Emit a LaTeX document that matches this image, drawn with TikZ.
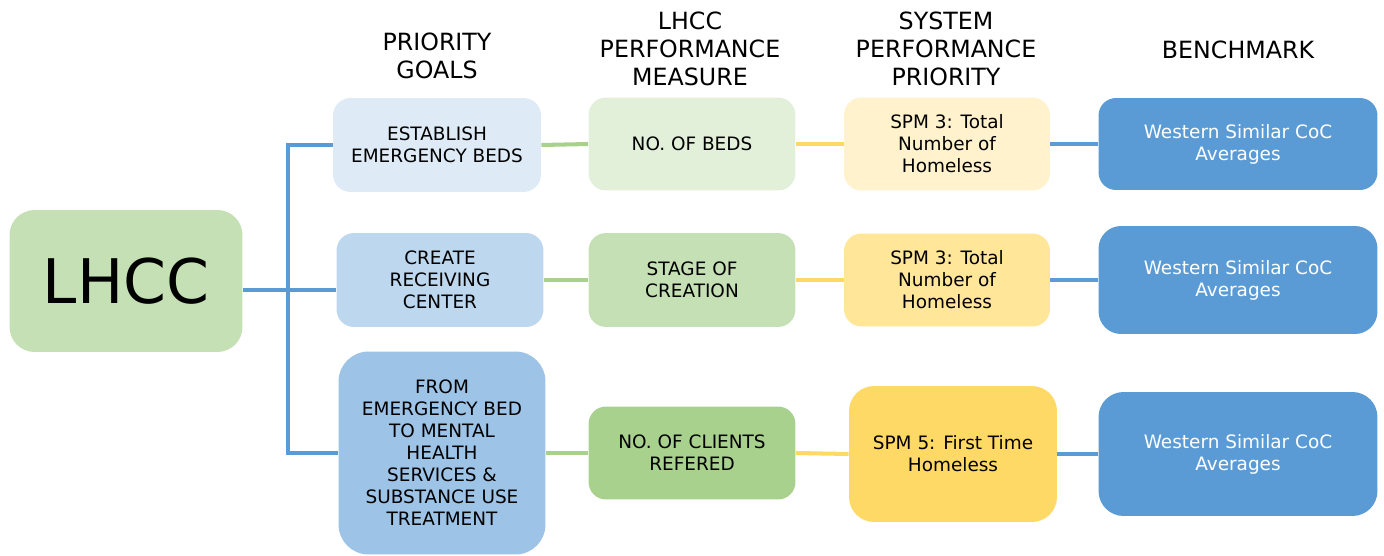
\documentclass[tikz,border=0pt]{standalone}
\usepackage{fontspec}
\setmainfont{DejaVu Sans}
\definecolor{lhccgreen}{HTML}{C5E0B4}
\definecolor{goalA}{HTML}{DEEBF7}
\definecolor{goalB}{HTML}{BDD7EE}
\definecolor{goalC}{HTML}{9DC3E6}
\definecolor{measA}{HTML}{E2F0D9}
\definecolor{measB}{HTML}{C5E0B4}
\definecolor{measC}{HTML}{A9D18E}
\definecolor{spmA}{HTML}{FFF2CC}
\definecolor{spmB}{HTML}{FFE699}
\definecolor{spmC}{HTML}{FFD966}
\definecolor{benchblue}{HTML}{5B9BD5}
\begin{document}
\begin{tikzpicture}[x=0.02cm,y=-0.02cm,
  box/.style={rounded corners=0.35cm,align=center,inner sep=2pt,
    font=\fontsize{10.5}{12.5}\selectfont},
  head/.style={align=center,font=\fontsize{13.5}{16}\selectfont},
  link/.style={line width=2.3pt}]
\useasboundingbox (0,0) rectangle (1384,555);
% column heads
\node[head] (hgoal) at (437,56) {PRIORITY\\GOALS};
\node[head] (hmeas) at (690,49) {LHCC\\PERFORMANCE\\MEASURE};
\node[head] (hspm) at (946,49) {SYSTEM\\PERFORMANCE\\PRIORITY};
\node[head] (hbench) at (1238,50) {BENCHMARK};
% boxes
\node[box,fill=lhccgreen,minimum width=4.66cm,minimum height=2.84cm,rounded corners=0.5cm,
  font=\fontsize{35}{40}\selectfont] (lhcc) at (126,281) {LHCC};
\node[box,fill=goalA,minimum width=4.16cm,minimum height=1.88cm] (goal1) at (437,145) {ESTABLISH\\EMERGENCY BEDS};
\node[box,fill=goalB,minimum width=4.14cm,minimum height=1.88cm] (goal2) at (440,280) {CREATE\\RECEIVING\\CENTER};
\node[box,fill=goalC,minimum width=4.14cm,minimum height=4.06cm,rounded corners=0.6cm] (goal3) at (442,453)
  {FROM\\EMERGENCY BED\\TO MENTAL\\HEALTH\\SERVICES \&\\SUBSTANCE USE\\TREATMENT};
\node[box,fill=measA,minimum width=4.14cm,minimum height=1.86cm] (meas1) at (692,144) {NO. OF BEDS};
\node[box,fill=measB,minimum width=4.14cm,minimum height=1.88cm] (meas2) at (692,280) {STAGE OF\\CREATION};
\node[box,fill=measC,minimum width=4.14cm,minimum height=1.86cm] (meas3) at (692,453) {NO. OF CLIENTS\\REFERED};
\node[box,fill=spmA,minimum width=4.12cm,minimum height=1.86cm] (spm1) at (947,144) {SPM 3: Total\\Number of\\Homeless};
\node[box,fill=spmB,minimum width=4.12cm,minimum height=1.86cm] (spm2) at (947,280) {SPM 3: Total\\Number of\\Homeless};
\node[box,fill=spmC,minimum width=4.16cm,minimum height=2.72cm,rounded corners=0.5cm] (spm3) at (953,454) {SPM 5: First Time\\Homeless};
\node[box,fill=benchblue,text=white,minimum width=5.58cm,minimum height=1.84cm] (bench1) at (1238,144) {Western Similar CoC\\Averages};
\node[box,fill=benchblue,text=white,minimum width=5.58cm,minimum height=2.16cm,rounded corners=0.45cm] (bench2) at (1238,280) {Western Similar CoC\\Averages};
\node[box,fill=benchblue,text=white,minimum width=5.58cm,minimum height=2.48cm,rounded corners=0.5cm] (bench3) at (1238,454) {Western Similar CoC\\Averages};
% tree from LHCC
\coordinate (jn) at (288,290);
\draw[link,benchblue] (lhcc.east |- jn) -- (jn);
\draw[link,benchblue] (goal1.west) -- (jn |- goal1) -- (jn |- goal3) -- (goal3.west);
\draw[link,benchblue] (jn) -- (goal2.west |- jn);
% row links
\foreach \i in {1,2,3}{
  \draw[link,measC] (goal\i.east) -- (meas\i.west);
  \draw[link,spmC] (meas\i.east) -- (spm\i.west);
  \draw[link,benchblue] (spm\i.east) -- (bench\i.west);
}
\end{tikzpicture}
\end{document}
